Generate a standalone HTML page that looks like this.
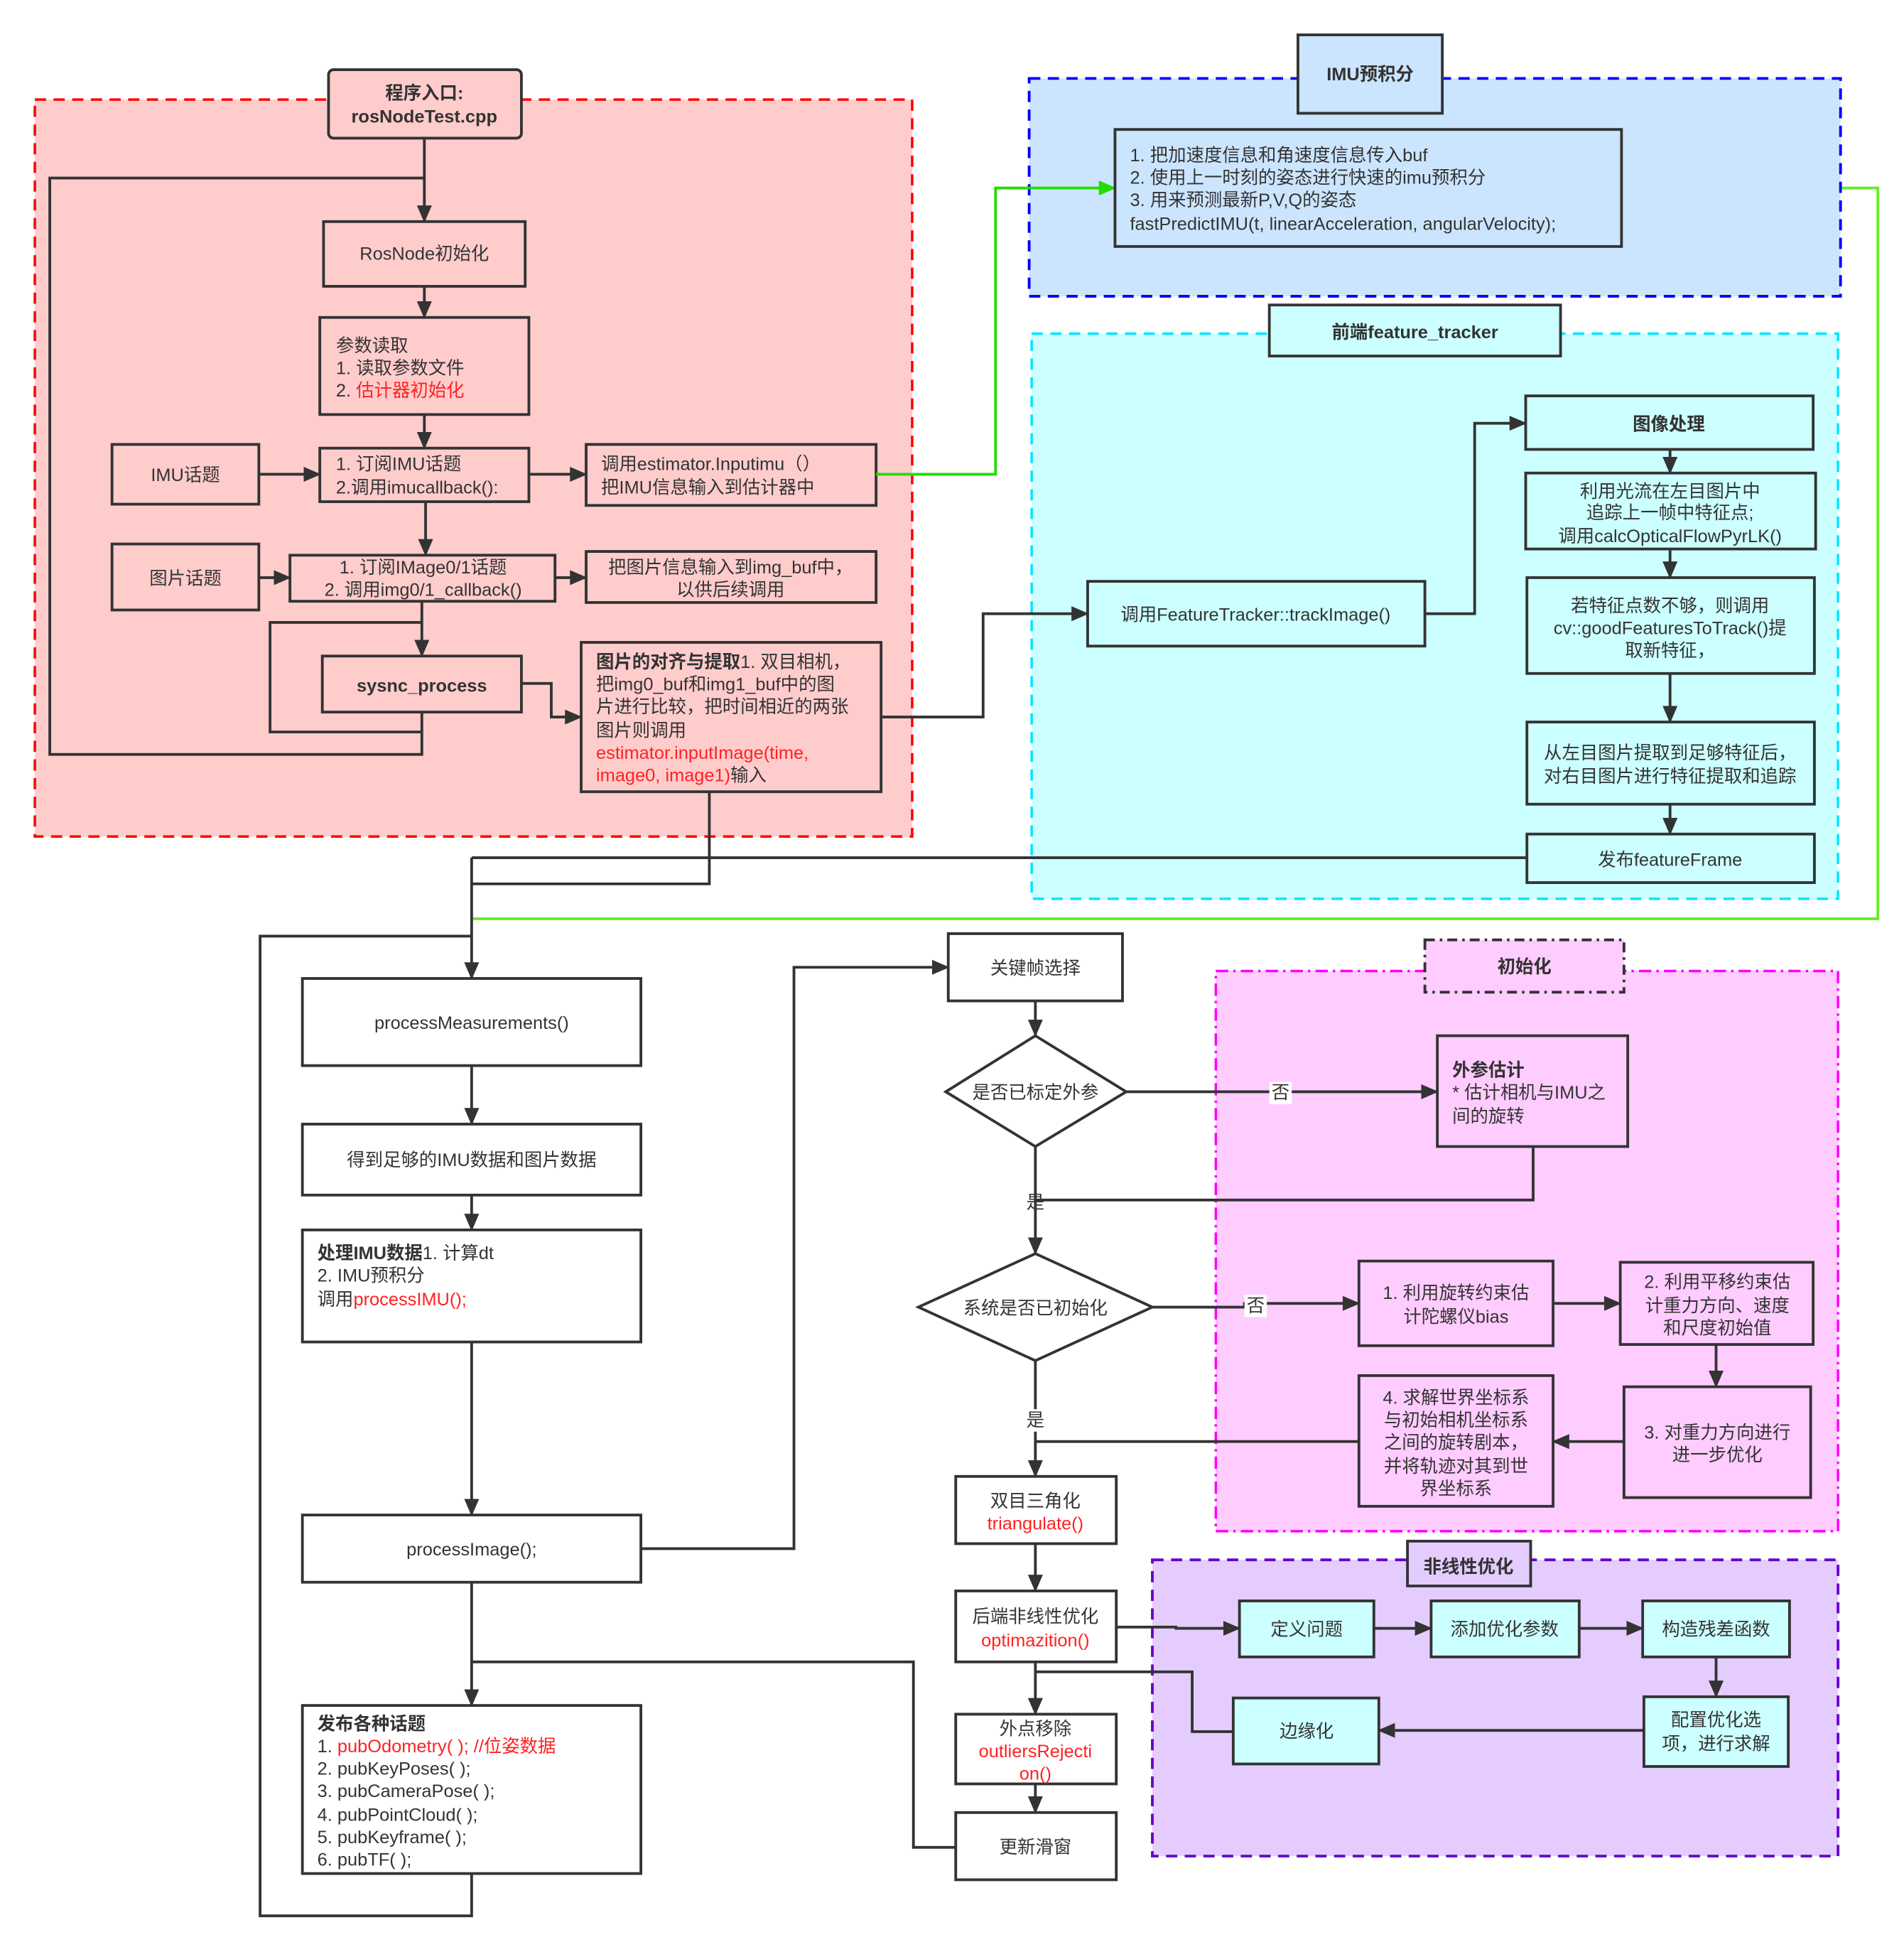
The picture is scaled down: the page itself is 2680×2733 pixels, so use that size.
<!DOCTYPE html>
<html><head><meta charset="utf-8"><style>
html,body{margin:0;padding:0;background:#fff}
svg{display:block}
text{font-family:"Liberation Sans","Noto Sans CJK SC",sans-serif;font-size:14.5px;fill:#333;dominant-baseline:central}
.b{font-weight:bold}
.r{fill:#ff2222}
.m{text-anchor:middle}
.box{stroke:#333;stroke-width:2.2;fill:none}
.ln{stroke:#333;stroke-width:2.2;fill:none}
</style></head><body>
<svg width="2680" height="2733" viewBox="0 0 1530 1560" preserveAspectRatio="none" xmlns="http://www.w3.org/2000/svg">
<defs>
<marker id="a" markerUnits="userSpaceOnUse" markerWidth="14" markerHeight="12" refX="13" refY="6" orient="auto"><path d="M0,0L14,6L0,12z" fill="#333"/></marker>
<marker id="g" markerUnits="userSpaceOnUse" markerWidth="14" markerHeight="12" refX="13" refY="6" orient="auto"><path d="M0,0L14,6L0,12z" fill="#22dd00"/></marker>
</defs>
<rect width="1530" height="1560" fill="#fff"/>
<!-- groups -->
<rect x="28" y="80" width="705" height="592" fill="#ffcccc" stroke="#ff0000" stroke-width="2" stroke-dasharray="9,6"/>
<rect x="827" y="63" width="652" height="175" fill="#cce5ff" stroke="#0000ff" stroke-width="2.2" stroke-dasharray="9,6"/>
<rect x="829" y="268" width="648" height="454" fill="#ccffff" stroke="#00e5ff" stroke-width="2" stroke-dasharray="9,6"/>
<rect x="977" y="780" width="500" height="450" fill="#ffccff" stroke="#ff00ff" stroke-width="2" stroke-dasharray="10,4,2,4"/>
<rect x="926" y="1253" width="551" height="238" fill="#e5ccff" stroke="#6600cc" stroke-width="2.2" stroke-dasharray="9,6"/>

<!-- red group nodes -->
<rect x="264" y="56" width="155" height="55" rx="4" class="box" fill="#ffcccc" style="fill:#ffcccc"/>
<text x="341" y="75" class="m b">程序入口:</text>
<text x="341" y="94" class="m b">rosNodeTest.cpp</text>
<rect x="260" y="178" width="162" height="52" class="box"/><text x="341" y="204" class="m">RosNode初始化</text>
<rect x="257" y="255" width="168" height="78" class="box"/>
<text x="270" y="278">参数读取</text><text x="270" y="296">1. 读取参数文件</text><text x="270" y="314">2. <tspan class="r">估计器初始化</tspan></text>
<rect x="90" y="357" width="118" height="48" class="box"/><text x="149" y="382" class="m">IMU话题</text>
<rect x="257" y="360" width="168" height="43" class="box"/>
<text x="270" y="373">1. 订阅IMU话题</text><text x="270" y="392">2.调用imucallback():</text>
<rect x="471" y="357" width="233" height="49" class="box"/>
<text x="483" y="373">调用estimator.Inputimu（）</text><text x="483" y="392">把IMU信息输入到估计器中</text>
<rect x="90" y="437" width="118" height="53" class="box"/><text x="149" y="465" class="m">图片话题</text>
<rect x="233" y="446" width="213" height="37" class="box"/>
<text x="340" y="456" class="m">1. 订阅IMage0/1话题</text><text x="340" y="474" class="m">2. 调用img0/1_callback()</text>
<rect x="471" y="443" width="233" height="41" class="box"/>
<text x="587" y="456" class="m">把图片信息输入到img_buf中，</text><text x="587" y="474" class="m">以供后续调用</text>
<rect x="259" y="527" width="160" height="45" class="box"/><text x="339" y="551" class="m b">sysnc_process</text>
<rect x="467" y="516" width="241" height="120" class="box"/>
<text x="479" y="532"><tspan class="b">图片的对齐与提取</tspan>1. 双目相机，</text>
<text x="479" y="550">把img0_buf和img1_buf中的图</text>
<text x="479" y="568">片进行比较，把时间相近的两张</text>
<text x="479" y="587">图片则调用</text>
<text x="479" y="605" class="r">estimator.inputImage(time,</text>
<text x="479" y="623"><tspan class="r">image0, image1)</tspan>输入</text>

<!-- red group connectors -->
<path class="ln" d="M341,111V178" marker-end="url(#a)"/>
<path class="ln" d="M339,572V606H40V143H341"/>
<path class="ln" d="M341,230V255" marker-end="url(#a)"/>
<path class="ln" d="M341,333V360" marker-end="url(#a)"/>
<path class="ln" d="M208,381H257" marker-end="url(#a)"/>
<path class="ln" d="M425,381H471" marker-end="url(#a)"/>
<path class="ln" d="M342,403V446" marker-end="url(#a)"/>
<path class="ln" d="M208,464H233" marker-end="url(#a)"/>
<path class="ln" d="M446,464H471" marker-end="url(#a)"/>
<path class="ln" d="M339,483V527" marker-end="url(#a)"/>
<path class="ln" d="M339,588H217V500H339"/>
<path class="ln" d="M419,549H443V576H467" marker-end="url(#a)"/>
<path d="M704,381H800V151H896" stroke="#22dd00" stroke-width="2.2" fill="none" marker-end="url(#g)"/>
<path class="ln" d="M708,576H790V493H874" marker-end="url(#a)"/>

<!-- blue group -->
<rect x="1043" y="28" width="116" height="63" class="box" style="fill:#cce5ff"/>
<text x="1101" y="60" class="m b">IMU预积分</text>
<rect x="896" y="104" width="407" height="94" class="box"/>
<text x="908" y="125">1. 把加速度信息和角速度信息传入buf</text>
<text x="908" y="143">2. 使用上一时刻的姿态进行快速的imu预积分</text>
<text x="908" y="161">3. 用来预测最新P,V,Q的姿态</text>
<text x="908" y="180">fastPredictIMU(t, linearAcceleration, angularVelocity);</text>

<!-- cyan group -->
<rect x="1020" y="245" width="234" height="41" class="box" style="fill:#ccffff"/>
<text x="1137" y="267" class="m b">前端feature_tracker</text>
<rect x="874" y="467" width="271" height="52" class="box"/><text x="1009" y="494" class="m">调用FeatureTracker::trackImage()</text>
<rect x="1226" y="318" width="231" height="43" class="box"/><text x="1341" y="341" class="m b">图像处理</text>
<rect x="1226" y="380" width="233" height="61" class="box"/>
<text x="1342" y="395" class="m">利用光流在左目图片中</text><text x="1342" y="412" class="m">追踪上一帧中特征点;</text><text x="1342" y="431" class="m">调用calcOpticalFlowPyrLK()</text>
<rect x="1227" y="464" width="231" height="77" class="box"/>
<text x="1342" y="487" class="m">若特征点数不够，则调用</text><text x="1342" y="505" class="m">cv::goodFeaturesToTrack()提</text><text x="1342" y="523" class="m">取新特征，</text>
<rect x="1227" y="580" width="231" height="66" class="box"/>
<text x="1342" y="605" class="m">从左目图片提取到足够特征后，</text><text x="1342" y="624" class="m">对右目图片进行特征提取和追踪</text>
<rect x="1227" y="670" width="231" height="39" class="box"/><text x="1342" y="691" class="m">发布featureFrame</text>
<path class="ln" d="M1145,493H1185V340H1226" marker-end="url(#a)"/>
<path class="ln" d="M1342,361V380" marker-end="url(#a)"/>
<path class="ln" d="M1342,441V464" marker-end="url(#a)"/>
<path class="ln" d="M1342,541V580" marker-end="url(#a)"/>
<path class="ln" d="M1342,646V670" marker-end="url(#a)"/>

<!-- long connectors -->
<path class="ln" d="M1227,689H379"/>
<path class="ln" d="M570,636V710H379"/>
<path d="M1480,151H1509V738H379" stroke="#66ee22" stroke-width="2.2" fill="none"/>
<path class="ln" d="M379,689V786" marker-end="url(#a)"/>
<path class="ln" d="M379,1505V1539H209V752H379"/>

<!-- bottom-left column -->
<rect x="243" y="786" width="272" height="70" class="box"/><text x="379" y="822" class="m">processMeasurements()</text>
<rect x="243" y="903" width="272" height="57" class="box"/><text x="379" y="932" class="m">得到足够的IMU数据和图片数据</text>
<rect x="243" y="988" width="272" height="90" class="box"/>
<text x="255" y="1007"><tspan class="b">处理IMU数据</tspan>1. 计算dt</text><text x="255" y="1025">2. IMU预积分</text><text x="255" y="1044">调用<tspan class="r">processIMU();</tspan></text>
<rect x="243" y="1217" width="272" height="54" class="box"/><text x="379" y="1245" class="m">processImage();</text>
<rect x="243" y="1370" width="272" height="135" class="box"/>
<text x="255" y="1385" class="b">发布各种话题</text>
<text x="255" y="1403">1. <tspan class="r">pubOdometry( ); //位姿数据</tspan></text>
<text x="255" y="1421">2. pubKeyPoses( );</text>
<text x="255" y="1439">3. pubCameraPose( );</text>
<text x="255" y="1458">4. pubPointCloud( );</text>
<text x="255" y="1476">5. pubKeyframe( );</text>
<text x="255" y="1494">6. pubTF( );</text>
<path class="ln" d="M379,856V903" marker-end="url(#a)"/>
<path class="ln" d="M379,960V988" marker-end="url(#a)"/>
<path class="ln" d="M379,1078V1217" marker-end="url(#a)"/>
<path class="ln" d="M379,1271V1370" marker-end="url(#a)"/>
<path class="ln" d="M515,1244H638V777H762" marker-end="url(#a)"/>
<path class="ln" d="M379,1335H734V1484H768"/>

<!-- middle column -->
<rect x="762" y="750" width="140" height="54" class="box"/><text x="832" y="778" class="m">关键帧选择</text>
<path class="ln" d="M832,804V832" marker-end="url(#a)"/>
<path class="ln" d="M760,877L832,832L905,877L832,921Z" style="fill:#fff"/>
<text x="832" y="878" class="m">是否已标定外参</text>
<path class="ln" d="M905,877H1155" marker-end="url(#a)"/>
<rect x="1020" y="869" width="18" height="18" fill="#fff"/><text x="1029" y="878" class="m">否</text>
<rect x="1155" y="832" width="153" height="89" class="box"/>
<text x="1167" y="860" class="b">外参估计</text><text x="1167" y="878">* 估计相机与IMU之</text><text x="1167" y="897">间的旋转</text>
<path class="ln" d="M1232,921V964H832"/>
<path class="ln" d="M832,921V1007" marker-end="url(#a)"/>
<text x="832" y="966" class="m">是</text>
<path class="ln" d="M738,1050L832,1007L926,1050L832,1093Z" style="fill:#fff"/>
<text x="832" y="1051" class="m">系统是否已初始化</text>
<path class="ln" d="M926,1050H1000V1047H1092" marker-end="url(#a)"/>
<rect x="1000" y="1040" width="18" height="18" fill="#fff"/><text x="1009" y="1049" class="m">否</text>
<rect x="1092" y="1013" width="156" height="68" class="box"/>
<text x="1170" y="1039" class="m">1. 利用旋转约束估</text><text x="1170" y="1058" class="m">计陀螺仪bias</text>
<rect x="1302" y="1014" width="155" height="66" class="box"/>
<text x="1380" y="1030" class="m">2. 利用平移约束估</text><text x="1380" y="1049" class="m">计重力方向、速度</text><text x="1380" y="1067" class="m">和尺度初始值</text>
<rect x="1305" y="1114" width="150" height="89" class="box"/>
<text x="1380" y="1151" class="m">3. 对重力方向进行</text><text x="1380" y="1169" class="m">进一步优化</text>
<rect x="1092" y="1105" width="156" height="105" class="box"/>
<text x="1170" y="1123" class="m">4. 求解世界坐标系</text><text x="1170" y="1141" class="m">与初始相机坐标系</text><text x="1170" y="1159" class="m">之间的旋转剧本，</text><text x="1170" y="1178" class="m">并将轨迹对其到世</text><text x="1170" y="1196" class="m">界坐标系</text>
<path class="ln" d="M1248,1047H1302" marker-end="url(#a)"/>
<path class="ln" d="M1379,1080V1114" marker-end="url(#a)"/>
<path class="ln" d="M1305,1158H1248" marker-end="url(#a)"/>
<path class="ln" d="M1092,1158H832"/>
<path class="ln" d="M832,1093V1186" marker-end="url(#a)"/>
<rect x="823" y="1132" width="18" height="18" fill="#fff"/><text x="832" y="1141" class="m">是</text>
<rect x="1145" y="755" width="160" height="42" stroke="#333" stroke-width="2.2" fill="#ffccff" stroke-dasharray="8,4,2,4"/>
<text x="1225" y="777" class="m b">初始化</text>

<rect x="768" y="1186" width="129" height="54" class="box" style="fill:#fff"/>
<text x="832" y="1206" class="m">双目三角化</text><text x="832" y="1224" class="m r">triangulate()</text>
<path class="ln" d="M832,1240V1278" marker-end="url(#a)"/>
<rect x="768" y="1278" width="129" height="57" class="box" style="fill:#fff"/>
<text x="832" y="1299" class="m">后端非线性优化</text><text x="832" y="1318" class="m r">optimazition()</text>
<path class="ln" d="M832,1335V1377" marker-end="url(#a)"/>
<rect x="768" y="1377" width="129" height="56" class="box" style="fill:#fff"/>
<text x="832" y="1389" class="m">外点移除</text><text x="832" y="1407" class="m r">outliersRejecti</text><text x="832" y="1425" class="m r">on()</text>
<path class="ln" d="M832,1433V1456" marker-end="url(#a)"/>
<rect x="768" y="1456" width="129" height="54" class="box" style="fill:#fff"/>
<text x="832" y="1484" class="m">更新滑窗</text>

<!-- purple group -->
<rect x="1131" y="1238" width="99" height="36" class="box" style="fill:#e5ccff"/>
<text x="1180" y="1259" class="m b">非线性优化</text>
<rect x="996" y="1286" width="108" height="45" class="box" style="fill:#ccffff"/><text x="1050" y="1309" class="m">定义问题</text>
<rect x="1150" y="1286" width="119" height="45" class="box" style="fill:#ccffff"/><text x="1209" y="1309" class="m">添加优化参数</text>
<rect x="1320" y="1286" width="118" height="45" class="box" style="fill:#ccffff"/><text x="1379" y="1309" class="m">构造残差函数</text>
<rect x="1321" y="1363" width="116" height="56" class="box" style="fill:#ccffff"/>
<text x="1379" y="1382" class="m">配置优化选</text><text x="1379" y="1401" class="m">项，进行求解</text>
<rect x="991" y="1364" width="117" height="53" class="box" style="fill:#ccffff"/><text x="1050" y="1391" class="m">边缘化</text>
<path class="ln" d="M897,1307H945V1308H996" marker-end="url(#a)"/>
<path class="ln" d="M1104,1308H1150" marker-end="url(#a)"/>
<path class="ln" d="M1269,1308H1320" marker-end="url(#a)"/>
<path class="ln" d="M1379,1331V1363" marker-end="url(#a)"/>
<path class="ln" d="M1321,1390H1108" marker-end="url(#a)"/>
<path class="ln" d="M832,1343H958V1391H991"/>
</svg>
</body></html>
